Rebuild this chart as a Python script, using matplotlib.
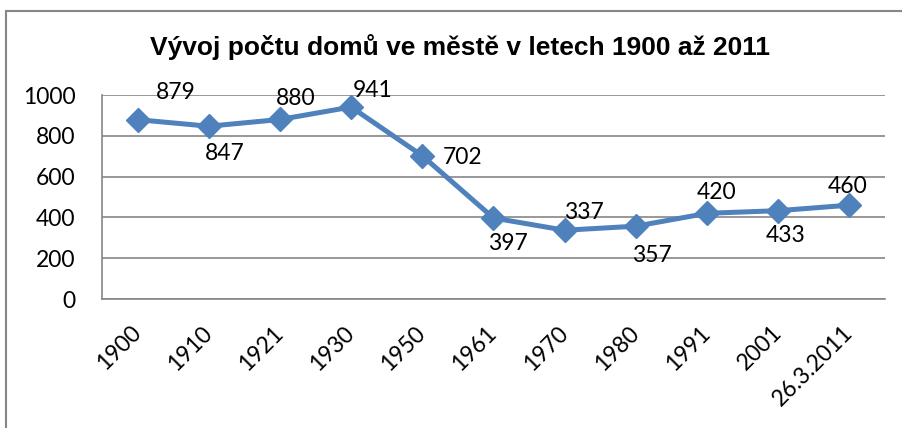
import matplotlib.pyplot as plt
from matplotlib.patches import Rectangle

# data
years = ['1900', '1910', '1921', '1930', '1950', '1961', '1970',
         '1980', '1991', '2001', '26.3.2011']
houses = [879, 847, 880, 941, 702, 397, 337, 357, 420, 433, 460]

# label offsets (px) from each marker, as placed in the original
label_dx = [38, 16, 16, 21, 40, 14, 19, 16, 10, 7, -2]
label_dy = [27, -27, 21, 17, -2, -25, 18, -29, 21, -25, 19]

blue = '#4F81BD'
grey = '#868686'
font = 'Lato'
fs = 16.5

fig = plt.figure(figsize=(9.03, 4.28), dpi=100)
ax = fig.add_axes([102/903, 1 - 299/428, 783/903, 204/428])

x = list(range(len(years)))
ax.plot(x, houses, color=blue, lw=3.6, marker='D', markersize=12,
        markeredgecolor=blue, zorder=3, clip_on=False)

for i, v in enumerate(houses):
    ax.annotate(str(v), (i, v), xytext=(label_dx[i]*0.72, label_dy[i]*0.72),
                textcoords='offset points', ha='center', va='center',
                fontsize=fs, family=font, color='black')

ax.set_xlim(-0.5, len(years) - 0.5)
ax.set_ylim(0, 1000)
ax.set_yticks(range(0, 1001, 200))
ax.set_xticks(x)
ax.set_xticklabels(years, rotation=45, ha='right', va='center',
                   rotation_mode='anchor', fontsize=fs, family=font)
ax.tick_params(axis='x', length=0, pad=22)
ax.tick_params(axis='y', length=0, pad=19, labelsize=fs)
for lab in ax.get_yticklabels():
    lab.set_family(font)

ax.grid(axis='y', color=grey, lw=1.2)
ax.set_axisbelow(True)
for s in ['top', 'right']:
    ax.spines[s].set_visible(False)
for s in ['left', 'bottom']:
    ax.spines[s].set_color(grey)
    ax.spines[s].set_linewidth(1.2)

fig.text(460/903, 1 - 47/428, 'Vývoj počtu domů ve městě v letech 1900 až 2011',
         ha='center', va='center', fontsize=19, fontweight='bold',
         family='Liberation Sans')

# outer chart border
fig.patches.append(Rectangle((6/903, -0.1), 1.2, 1 - 11/428 + 0.1,
                             transform=fig.transFigure, fill=False,
                             edgecolor=grey, lw=1.5))

fig.savefig('out.png', dpi=100)
